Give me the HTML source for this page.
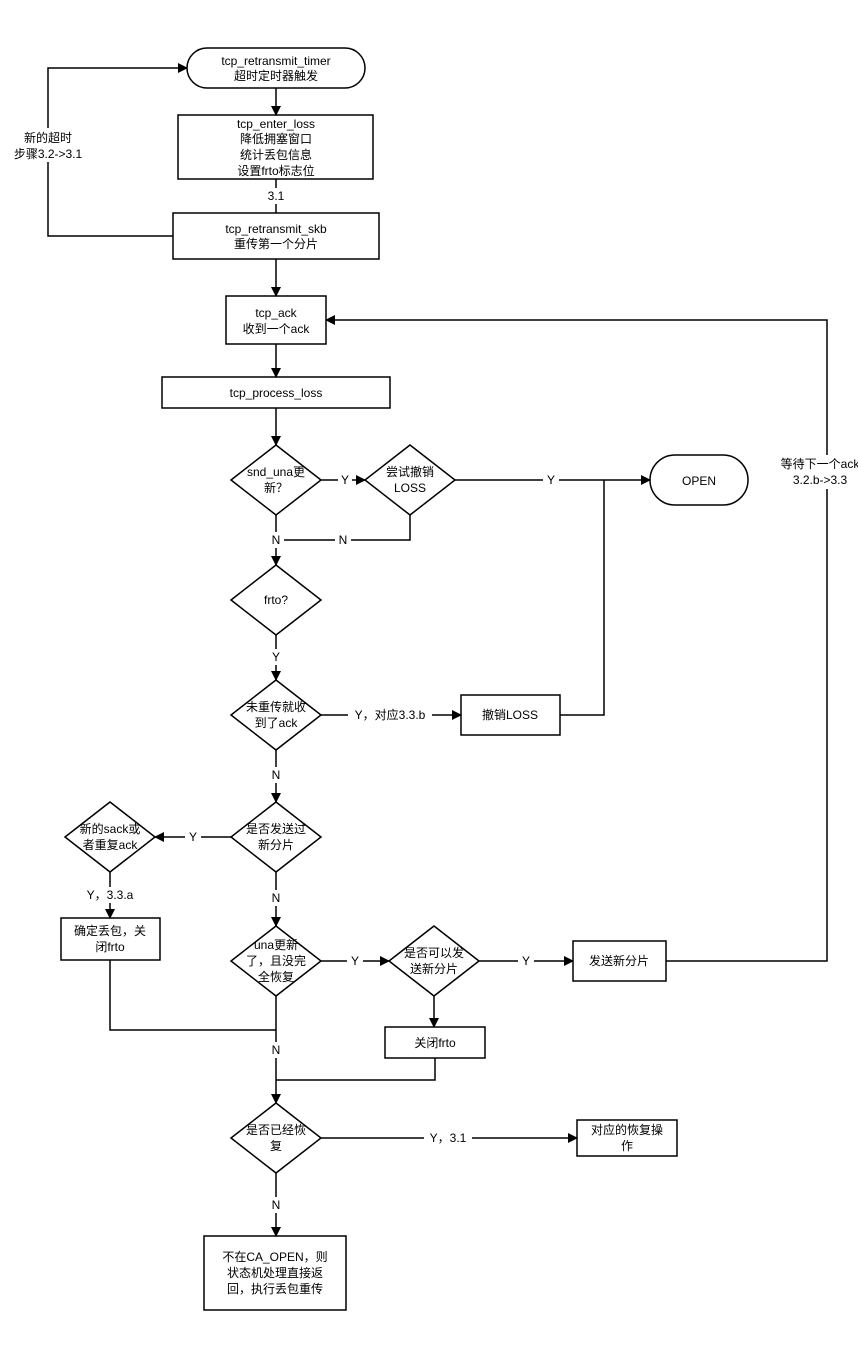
<!DOCTYPE html>
<html><head><meta charset="utf-8"><style>
html,body{margin:0;padding:0;background:#fff;}
svg text{font-family:"Liberation Sans","Noto Sans CJK SC",sans-serif;font-size:12px;fill:#000;}
</style></head><body>
<svg width="858" height="1343" viewBox="0 0 858 1343" xmlns="http://www.w3.org/2000/svg">
<defs><marker id="a" markerWidth="10" markerHeight="10" refX="9" refY="5" orient="auto" markerUnits="userSpaceOnUse"><path d="M0,0 L10,5 L0,10 z" fill="#000"/></marker></defs>
<g fill="none" stroke="#000" stroke-width="1.5">
<!-- shapes -->
<rect x="187" y="48" width="178" height="40" rx="20"/>
<rect x="178" y="115" width="195" height="64"/>
<rect x="173" y="213" width="206" height="46"/>
<rect x="226" y="296" width="100" height="48"/>
<rect x="162" y="377" width="228" height="31"/>
<path d="M276,445 L321,480 L276,515 L231,480 z"/>
<path d="M410,445 L455,480 L410,515 L365,480 z"/>
<rect x="650" y="455" width="98" height="50" rx="25"/>
<path d="M276,565 L321,600 L276,635 L231,600 z"/>
<path d="M276,680 L321,715 L276,750 L231,715 z"/>
<rect x="461" y="695" width="99" height="40"/>
<path d="M276,802 L321,837 L276,872 L231,837 z"/>
<path d="M110,802 L155,837 L110,872 L65,837 z"/>
<rect x="61" y="918" width="99" height="42"/>
<path d="M276,926 L321,961 L276,996 L231,961 z"/>
<path d="M434,926 L479,961 L434,996 L389,961 z"/>
<rect x="573" y="941" width="93" height="40"/>
<rect x="385" y="1027" width="100" height="31"/>
<path d="M276,1103 L321,1138 L276,1173 L231,1138 z"/>
<rect x="577" y="1120" width="100" height="36"/>
<rect x="204" y="1236" width="142" height="74"/>
<!-- connectors -->
<path d="M276,88 L276,115" marker-end="url(#a)"/>
<path d="M276,179 L276,213"/>
<path d="M173,236 L48,236 L48,68 L187,68" marker-end="url(#a)"/>
<path d="M276,259 L276,296" marker-end="url(#a)"/>
<path d="M276,344 L276,377" marker-end="url(#a)"/>
<path d="M276,408 L276,445" marker-end="url(#a)"/>
<path d="M321,480 L365,480" marker-end="url(#a)"/>
<path d="M455,480 L650,480" marker-end="url(#a)"/>
<path d="M410,515 L410,540 L276,540"/>
<path d="M276,515 L276,565" marker-end="url(#a)"/>
<path d="M276,635 L276,680" marker-end="url(#a)"/>
<path d="M321,715 L461,715" marker-end="url(#a)"/>
<path d="M560,715 L604,715 L604,480"/>
<path d="M276,750 L276,802" marker-end="url(#a)"/>
<path d="M231,837 L155,837" marker-end="url(#a)"/>
<path d="M110,872 L110,918" marker-end="url(#a)"/>
<path d="M276,872 L276,926" marker-end="url(#a)"/>
<path d="M321,961 L389,961" marker-end="url(#a)"/>
<path d="M479,961 L573,961" marker-end="url(#a)"/>
<path d="M666,961 L827,961 L827,320 L326,320" marker-end="url(#a)"/>
<path d="M434,996 L434,1027" marker-end="url(#a)"/>
<path d="M435,1058 L435,1080 L276,1080"/>
<path d="M110,960 L110,1030 L276,1030"/>
<path d="M276,996 L276,1103" marker-end="url(#a)"/>
<path d="M321,1138 L577,1138" marker-end="url(#a)"/>
<path d="M276,1173 L276,1236" marker-end="url(#a)"/>
</g>
<!-- label backgrounds -->
<g fill="#fff">
<rect x="262" y="188" width="28" height="16"/>
<rect x="6" y="128" width="84" height="34"/>
<rect x="338" y="472" width="14" height="16"/>
<rect x="543" y="472" width="16" height="16"/>
<rect x="268" y="532" width="16" height="16"/>
<rect x="335" y="532" width="16" height="16"/>
<rect x="268" y="649" width="16" height="16"/>
<rect x="348" y="707" width="84" height="16"/>
<rect x="268" y="767" width="16" height="16"/>
<rect x="185" y="829" width="16" height="16"/>
<rect x="84" y="887" width="54" height="16"/>
<rect x="268" y="890" width="16" height="16"/>
<rect x="347" y="953" width="16" height="16"/>
<rect x="518" y="953" width="16" height="16"/>
<rect x="780" y="455" width="78" height="34"/>
<rect x="268" y="1042" width="16" height="16"/>
<rect x="424" y="1130" width="48" height="16"/>
<rect x="268" y="1197" width="16" height="16"/>
</g>
<g text-anchor="middle">
<text x="276" y="65">tcp_retransmit_timer</text><text x="276" y="80">超时定时器触发</text>
<text x="276" y="128">tcp_enter_loss</text><text x="276" y="143">降低拥塞窗口</text><text x="276" y="159">统计丢包信息</text><text x="276" y="175">设置frto标志位</text>
<text x="276" y="200">3.1</text>
<text x="48" y="142">新的超时</text><text x="48" y="158">步骤3.2-&gt;3.1</text>
<text x="276" y="233">tcp_retransmit_skb</text><text x="276" y="248">重传第一个分片</text>
<text x="276" y="317">tcp_ack</text><text x="276" y="333">收到一个ack</text>
<text x="276" y="397">tcp_process_loss</text>
<text x="276" y="476">snd_una更</text><text x="276" y="492">新？</text>
<text x="345" y="484">Y</text>
<text x="410" y="476">尝试撤销</text><text x="410" y="492">LOSS</text>
<text x="551" y="484">Y</text>
<text x="699" y="485">OPEN</text>
<text x="276" y="544">N</text><text x="343" y="544">N</text>
<text x="276" y="604">frto?</text>
<text x="276" y="661">Y</text>
<text x="276" y="711">未重传就收</text><text x="276" y="727">到了ack</text>
<text x="390" y="719">Y，对应3.3.b</text>
<text x="510" y="719">撤销LOSS</text>
<text x="276" y="779">N</text>
<text x="276" y="833">是否发送过</text><text x="276" y="849">新分片</text>
<text x="193" y="841">Y</text>
<text x="110" y="833">新的sack或</text><text x="110" y="849">者重复ack</text>
<text x="110" y="899">Y，3.3.a</text>
<text x="110" y="935">确定丢包，关</text><text x="110" y="951">闭frto</text>
<text x="276" y="902">N</text>
<text x="276" y="949">una更新</text><text x="276" y="965">了，且没完</text><text x="276" y="981">全恢复</text>
<text x="355" y="965">Y</text>
<text x="434" y="957">是否可以发</text><text x="434" y="973">送新分片</text>
<text x="526" y="965">Y</text>
<text x="619" y="965">发送新分片</text>
<text x="820" y="468">等待下一个ack</text><text x="820" y="484">3.2.b-&gt;3.3</text>
<text x="435" y="1047">关闭frto</text>
<text x="276" y="1054">N</text>
<text x="276" y="1134">是否已经恢</text><text x="276" y="1150">复</text>
<text x="448" y="1142">Y，3.1</text>
<text x="627" y="1134">对应的恢复操</text><text x="627" y="1150">作</text>
<text x="276" y="1209">N</text>
<text x="275" y="1261">不在CA_OPEN，则</text><text x="275" y="1277">状态机处理直接返</text><text x="275" y="1293">回，执行丢包重传</text>
</g>
</svg>
</body></html>
